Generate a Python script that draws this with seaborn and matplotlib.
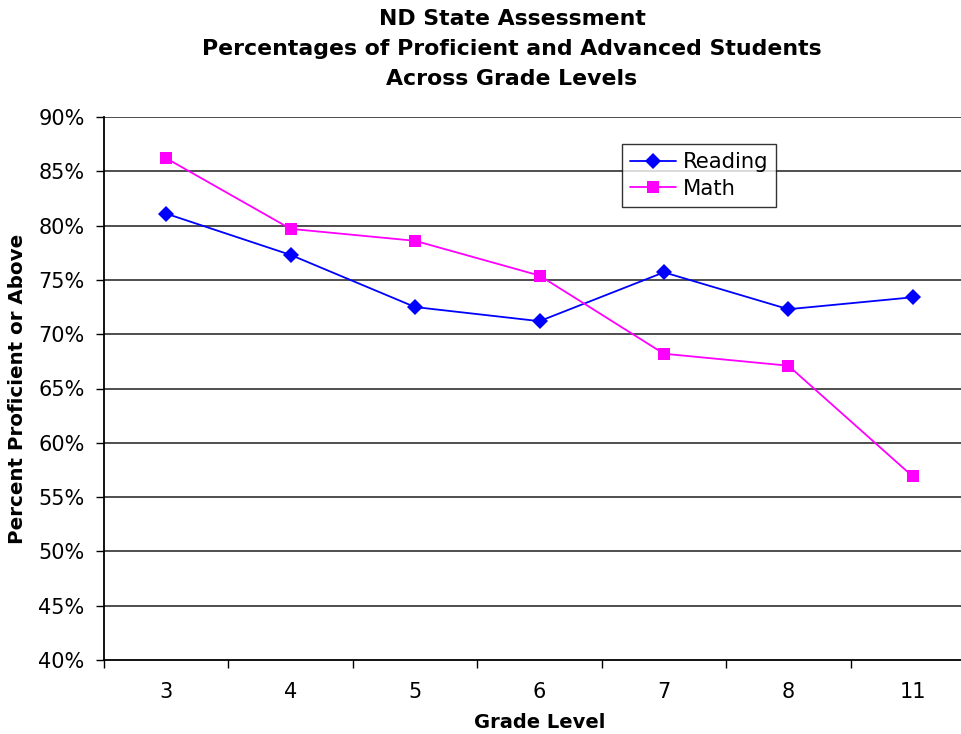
import matplotlib
matplotlib.use("Agg")
import matplotlib.pyplot as plt
import matplotlib.ticker as mticker
import numpy as np
import pandas as pd
import seaborn as sns

# Grade levels and percentage of students scoring proficient or advanced
grades = ["3", "4", "5", "6", "7", "8", "11"]
reading = [81.1, 77.3, 72.5, 71.2, 75.7, 72.3, 73.4]
math = [86.2, 79.7, 78.6, 75.4, 68.2, 67.1, 56.9]

series_names = ["Reading", "Math"]
series_colors = {"Reading": "#0000FF", "Math": "#FF00FF"}
series_markers = {"Reading": "D", "Math": "s"}

df = pd.DataFrame({
    "Grade": grades * 2,
    "Percent": reading + math,
    "Subject": ["Reading"] * len(grades) + ["Math"] * len(grades),
})

sns.set_theme(style="white")
plt.rcParams["font.family"] = ["DejaVu Sans"]
for key in ["text.color", "axes.labelcolor", "xtick.color", "ytick.color"]:
    plt.rcParams[key] = "black"

fig = plt.figure(figsize=(9.62, 7.34), dpi=100)
ax = fig.add_axes([104 / 962, 1 - 660 / 734, (975 - 104) / 962, (660 - 117) / 734])

sns.lineplot(
    data=df, x="Grade", y="Percent", hue="Subject", style="Subject",
    hue_order=series_names, style_order=series_names,
    palette=series_colors, markers=series_markers, dashes=False,
    sort=False, linewidth=1.3, markersize=8, markeredgewidth=0,
    ax=ax, legend=True,
)

ax.set_xlim(-0.5, len(grades) - 0.5)
ax.set_ylim(40, 90)

# horizontal gridlines every 5%
for v in np.arange(45, 90.1, 5):
    ax.axhline(v, color="#404040", linewidth=1.3, zorder=0)

ax.yaxis.set_major_locator(mticker.MultipleLocator(5))
ax.yaxis.set_major_formatter(mticker.FuncFormatter(lambda v, p: f"{v:.0f}%"))
ax.tick_params(axis="y", which="major", direction="out", length=5.5, width=1,
               color="black", labelsize=15, pad=8.5, left=True)

ax.set_xticks(range(len(grades)))
ax.set_xticklabels(grades)
ax.set_xticks(np.arange(-0.5, len(grades), 1.0), minor=True)
ax.tick_params(axis="x", which="major", length=0, pad=15.5, labelsize=15)
ax.tick_params(axis="x", which="minor", direction="out", length=6, width=1,
               color="black", bottom=True)

for side in ["top", "right"]:
    ax.spines[side].set_visible(False)
for side in ["left", "bottom"]:
    ax.spines[side].set_color("black")
    ax.spines[side].set_linewidth(1.3)

ax.set_xlabel("Grade Level", fontsize=14, fontweight="bold", labelpad=8.5)
ax.set_ylabel("Percent Proficient or Above", fontsize=14.3, fontweight="bold", labelpad=8)

fig.text(512 / 962, 1 - 9 / 734,
         "ND State Assessment\nPercentages of Proficient and Advanced Students\nAcross Grade Levels",
         ha="center", va="top", fontsize=15.8, fontweight="bold", linespacing=1.62)

leg = ax.legend(loc="upper left", bbox_to_anchor=((622 - 104) / 871, (660 - 144) / 543),
                frameon=True, fancybox=False, shadow=False, fontsize=15.2,
                handlelength=2.2, borderpad=0.38, labelspacing=0.32, handletextpad=0.3,
                borderaxespad=0)
leg.get_frame().set_edgecolor("black")
leg.get_frame().set_linewidth(1.0)

fig.savefig("out.png", dpi=100)
